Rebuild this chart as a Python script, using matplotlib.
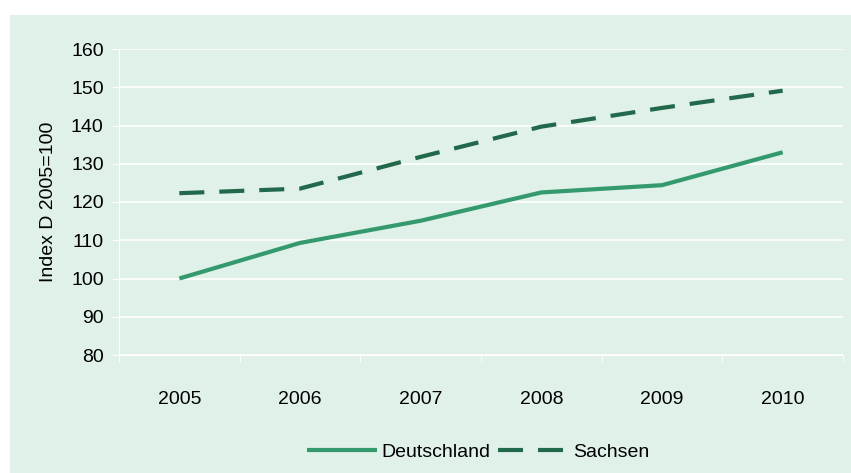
import matplotlib
matplotlib.use("Agg")
import matplotlib.pyplot as plt
from matplotlib.patches import Rectangle

years = ['2005', '2006', '2007', '2008', '2009', '2010']
deutschland = [100.0, 109.3, 115.1, 122.5, 124.4, 133.0]
sachsen = [122.3, 123.5, 131.8, 139.7, 144.6, 149.1]
y_ticks = [80, 90, 100, 110, 120, 130, 140, 150, 160]

bg = '#dff1e9'
plt.rcParams['font.family'] = ['Liberation Sans', 'DejaVu Sans']
plt.rcParams['font.size'] = 14

fig = plt.figure(figsize=(8.51, 4.73), dpi=100, facecolor='white')
# light green panel behind everything, with a thin white margin top/left
fig.patches.append(Rectangle((10 / 851, 0), 1, 1 - 15 / 473, transform=fig.transFigure,
                             facecolor=bg, edgecolor='none', zorder=-10))
ax = fig.add_axes([119 / 851, 1 - 355 / 473, (843 - 119) / 851, (355 - 49) / 473])
ax.set_facecolor(bg)

x = list(range(len(years)))
ax.plot(x, deutschland, color='#349a6e', lw=3, label='Deutschland', solid_capstyle='butt')
ax.plot(x, sachsen, color='#21694a', lw=3, dashes=(6, 3.6), label='Sachsen')

ax.set_xlim(-0.5, len(years) - 0.5)
ax.set_ylim(80, 160)
ax.set_yticks(y_ticks)
ax.set_xticks(x)
ax.set_xticklabels(years)
ax.set_xticks([i - 0.5 for i in range(len(years) + 1)], minor=True)
ax.tick_params(axis='x', which='major', length=0, pad=26)
ax.tick_params(axis='x', which='minor', length=5, color='white', direction='out')
ax.tick_params(axis='y', length=5, color='white', direction='out', pad=6)
ax.yaxis.grid(True, color='white', lw=1.2)
ax.set_axisbelow(True)
for side in ['top', 'right']:
    ax.spines[side].set_visible(False)
for side in ['left', 'bottom']:
    ax.spines[side].set_color('white')
ax.set_ylabel('Index D 2005=100', labelpad=10)

ax.legend(loc='center', bbox_to_anchor=(478 / 851, 1 - 452 / 473), bbox_transform=fig.transFigure,
          ncol=2, frameon=False, handlelength=3.6, handletextpad=0.25, columnspacing=0.4)

fig.savefig('out.png', dpi=100, facecolor='white')
